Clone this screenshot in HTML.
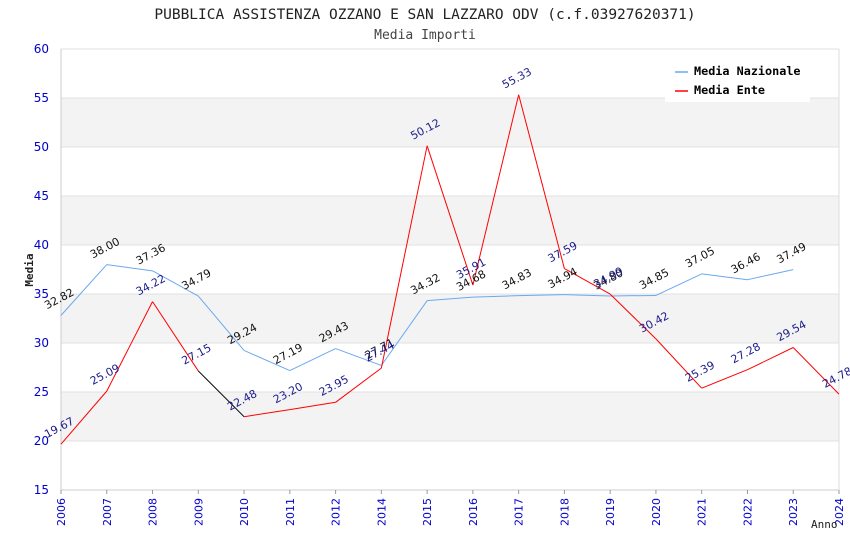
<!DOCTYPE html>
<html><head><meta charset="utf-8"><style>
body{margin:0;background:#fff}
</style></head><body>
<svg id="c" width="850" height="550" xmlns="http://www.w3.org/2000/svg" font-family="DejaVu Sans, Liberation Sans, sans-serif">
<text x="425" y="19" text-anchor="middle" style="font-family:'DejaVu Sans Mono','Liberation Mono',monospace" font-size="14.5" fill="#222">PUBBLICA ASSISTENZA OZZANO E SAN LAZZARO ODV (c.f.03927620371)</text>
<text x="425" y="39" text-anchor="middle" style="font-family:'DejaVu Sans Mono','Liberation Mono',monospace" font-size="13" fill="#444">Media Importi</text>
<g id="grid"></g><g id="axes"></g><g id="series"></g><g id="labels"></g>
<text x="33" y="270" transform="rotate(-90 33 270)" text-anchor="middle" style="font-family:'DejaVu Sans Mono',monospace" font-size="11" font-weight="bold" fill="#222">Media</text>
<text x="811" y="528" style="font-family:'DejaVu Sans Mono',monospace" font-size="11" fill="#222">Anno</text>
<g>
<rect x="665" y="58" width="145" height="44" fill="#fff"/>
<line x1="675" y1="72" x2="688" y2="72" stroke="#6aa8f0" stroke-width="1.5"/>
<text x="694" y="75" style="font-family:'DejaVu Sans Mono',monospace" font-size="11.8" font-weight="bold" fill="#000">Media Nazionale</text>
<line x1="675" y1="91" x2="688" y2="91" stroke="#f00" stroke-width="1.5"/>
<text x="694" y="94" style="font-family:'DejaVu Sans Mono',monospace" font-size="11.8" font-weight="bold" fill="#000">Media Ente</text>
</g>
</svg>
<script>
const years=["2006","2007","2008","2009","2010","2011","2012","2014","2015","2016","2017","2018","2019","2020","2021","2022","2023","2024"];
const nazionale=[32.82,38.00,37.36,34.79,29.24,27.19,29.43,27.71,34.32,34.68,34.83,34.94,34.80,34.85,37.05,36.46,37.49,null];
const ente=[19.67,25.09,34.22,27.15,22.48,23.20,23.95,27.44,50.12,35.91,55.33,37.59,34.99,30.42,25.39,27.28,29.54,24.78];
const yTicks=[15,20,25,30,35,40,45,50,55,60];
const NS="http://www.w3.org/2000/svg";
const L=61,R=839,T=49,B=490,yMin=15,yMax=60;
const xs=i=>L+i*(R-L)/(years.length-1);
const ys=v=>B-(v-yMin)/(yMax-yMin)*(B-T);
function mk(tag,attrs,parent){const e=document.createElementNS(NS,tag);for(const k in attrs)e.setAttribute(k,attrs[k]);document.getElementById(parent).appendChild(e);return e;}
for(let i=0;i<yTicks.length-1;i++){
 if(i%2===1){const r=mk('rect',{x:L,y:ys(yTicks[i+1]),width:R-L,height:ys(yTicks[i])-ys(yTicks[i+1]),fill:'#f3f3f3'},'grid');
 
 }
}
yTicks.forEach(t=>{
 const l=mk('line',{x1:L,x2:R,y1:ys(t),y2:ys(t),stroke:'#e0e0e0'},'grid');
 
 
 const tx=mk('text',{x:49,y:ys(t)+4,'text-anchor':'end','font-size':12,fill:'#00c'},'axes');
 tx.textContent=t;
 
 
});
mk('line',{x1:L,x2:L,y1:T,y2:B,stroke:'#ccc'},'axes');
mk('line',{x1:L,x2:R,y1:B,y2:B,stroke:'#ccc'},'axes');
mk('line',{x1:R,x2:R,y1:T,y2:B,stroke:'#ddd'},'axes');
years.forEach((y,i)=>{
 const x=xs(i);
 mk('line',{x1:x,x2:x,y1:B,y2:B+4,stroke:'#999'},'axes');
 const tx=mk('text',{x:x+4,y:B+8,transform:`rotate(-90 ${x+4} ${B+8})`,'text-anchor':'end','font-size':11,fill:'#00c'},'axes');
 tx.textContent=y;
 
 
});
function drawSeries(vals,color,name,lblColor){
 for(let i=0;i<vals.length-1;i++){
  if(vals[i]==null||vals[i+1]==null)continue;
  let c=color;
  if(name==='ente'&&i===3)c='#000';
  const s=mk('line',{x1:xs(i),y1:ys(vals[i]),x2:xs(i+1),y2:ys(vals[i+1]),stroke:c,'stroke-width':1},'series');
  
  
 }
 vals.forEach((v,i)=>{
  if(v==null)return;
  const x=xs(i)-14,y=ys(v)-6;
  const t=mk('text',{x:x,y:y,transform:`rotate(-28 ${x} ${y})`,'font-size':11,fill:lblColor},'labels');
  t.textContent=v.toFixed(2);
  
  
 });
}
drawSeries(nazionale,'#6aa8f0','nazionale','#111');
drawSeries(ente,'#f00','ente','#1a1a8c');
</script>
</body></html>
